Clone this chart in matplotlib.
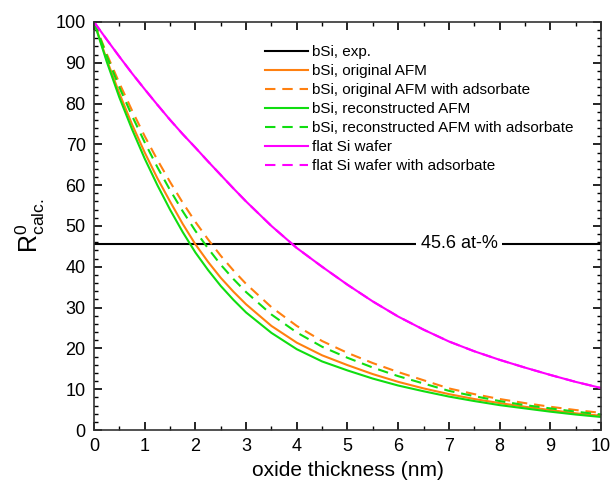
import matplotlib
matplotlib.use("Agg")
import matplotlib.pyplot as plt
from matplotlib.ticker import MultipleLocator

plt.rcParams['font.family'] = ['Liberation Sans', 'DejaVu Sans']
plt.rcParams['mathtext.fontset'] = 'custom'
plt.rcParams['mathtext.rm'] = 'Liberation Sans'
plt.rcParams['mathtext.it'] = 'Liberation Sans'

# 数据
thickness = [0, 0.25, 0.5, 0.75, 1, 1.25, 1.5, 1.75, 2, 2.25, 2.5, 2.75, 3,
             3.5, 4, 4.5, 5, 5.5, 6, 6.5, 7, 7.5, 8, 8.5, 9, 9.5, 10]
orig_afm = [100, 90.8, 82.5, 74.9, 68, 61.7, 56, 50.5, 45.5, 41.2, 37.3, 33.9, 30.8,
            25.5, 21.4, 18.3, 15.9, 13.7, 11.8, 10.2, 8.8, 7.6, 6.6, 5.7, 4.9, 4.1, 3.5]
orig_afm_ads = [100, 92.2, 85, 78.3, 72, 66.2, 60.8, 55.7, 51, 46.7, 42.7, 39.1, 35.8,
                30.1, 25.5, 21.8, 18.9, 16.4, 14.2, 12.2, 10.2, 8.8, 7.6, 6.6, 5.7, 4.9, 4.2]
rec_afm = [100, 90.3, 81.5, 73.7, 66.5, 60, 54, 48.5, 43.5, 39.2, 35.3, 31.9, 28.8,
           23.8, 19.8, 16.8, 14.6, 12.6, 10.9, 9.5, 8.2, 7.1, 6.1, 5.3, 4.5, 3.8, 3.2]
rec_afm_ads = [100, 91.7, 84, 77, 70.5, 64.4, 58.8, 53.6, 48.8, 44.5, 40.5, 37, 33.8,
               28.3, 23.9, 20.4, 17.7, 15.3, 13.2, 11.4, 9.6, 8.3, 7.1, 6.1, 5.3, 4.5, 3.8]
flat_si = [100, 95.7, 91.5, 87.4, 83.5, 79.7, 76, 72.5, 69.2, 65.8, 62.5, 59.2, 56,
           50, 44.6, 40, 35.6, 31.5, 27.8, 24.6, 21.7, 19.3, 17.2, 15.3, 13.5, 11.8, 10.3]
flat_si_ads = flat_si
exp_value = 45.6

orange = '#ff8010'
green = '#10dd10'
magenta = '#ff00ff'
dash = (0, (5, 3.3))

fig = plt.figure(figsize=(6.12, 4.87), dpi=100)
ax = fig.add_axes([0.1536, 0.117, 0.8284, 0.838])

ax.plot([0, 10], [exp_value, exp_value], color='black', lw=1.5, label='bSi, exp.')
ax.plot(thickness, orig_afm, color=orange, lw=1.5, label='bSi, original AFM')
ax.plot(thickness, orig_afm_ads, color=orange, lw=1.5, ls=dash,
        label='bSi, original AFM with adsorbate')
ax.plot(thickness, rec_afm, color=green, lw=1.5, label='bSi, reconstructed AFM')
ax.plot(thickness, rec_afm_ads, color=green, lw=1.5, ls=dash,
        label='bSi, reconstructed AFM with adsorbate')
ax.plot(thickness, flat_si, color=magenta, lw=1.5, label='flat Si wafer')
ax.plot(thickness, flat_si_ads, color=magenta, lw=1.5, ls=dash,
        label='flat Si wafer with adsorbate')

ax.text(7.2, exp_value, '45.6 at-%', fontsize=13, ha='center', va='center',
        bbox=dict(facecolor='white', edgecolor='none', pad=3))

ax.set_xlim(0, 10)
ax.set_ylim(0, 100)
ax.xaxis.set_major_locator(MultipleLocator(1))
ax.xaxis.set_minor_locator(MultipleLocator(0.5))
ax.yaxis.set_major_locator(MultipleLocator(10))
ax.yaxis.set_minor_locator(MultipleLocator(2))
ax.tick_params(which='both', direction='in', top=True, right=True, labelsize=13)
ax.tick_params(which='major', length=6, width=1.2, pad=6)
ax.tick_params(which='minor', length=3, width=1)
for s in ax.spines.values():
    s.set_linewidth(1.2)
    s.set_color('#333333')

ax.set_xlabel('oxide thickness (nm)', fontsize=15, labelpad=4)
ax.set_ylabel(r'R$^0_{\mathrm{calc.}}$', fontsize=18, labelpad=6)

leg = ax.legend(loc='upper left', bbox_to_anchor=(0.325, 0.958), frameon=False,
                fontsize=11, handlelength=2.8, labelspacing=0.33,
                handletextpad=0.3, borderaxespad=0)

plt.savefig('out.png', dpi=100)
